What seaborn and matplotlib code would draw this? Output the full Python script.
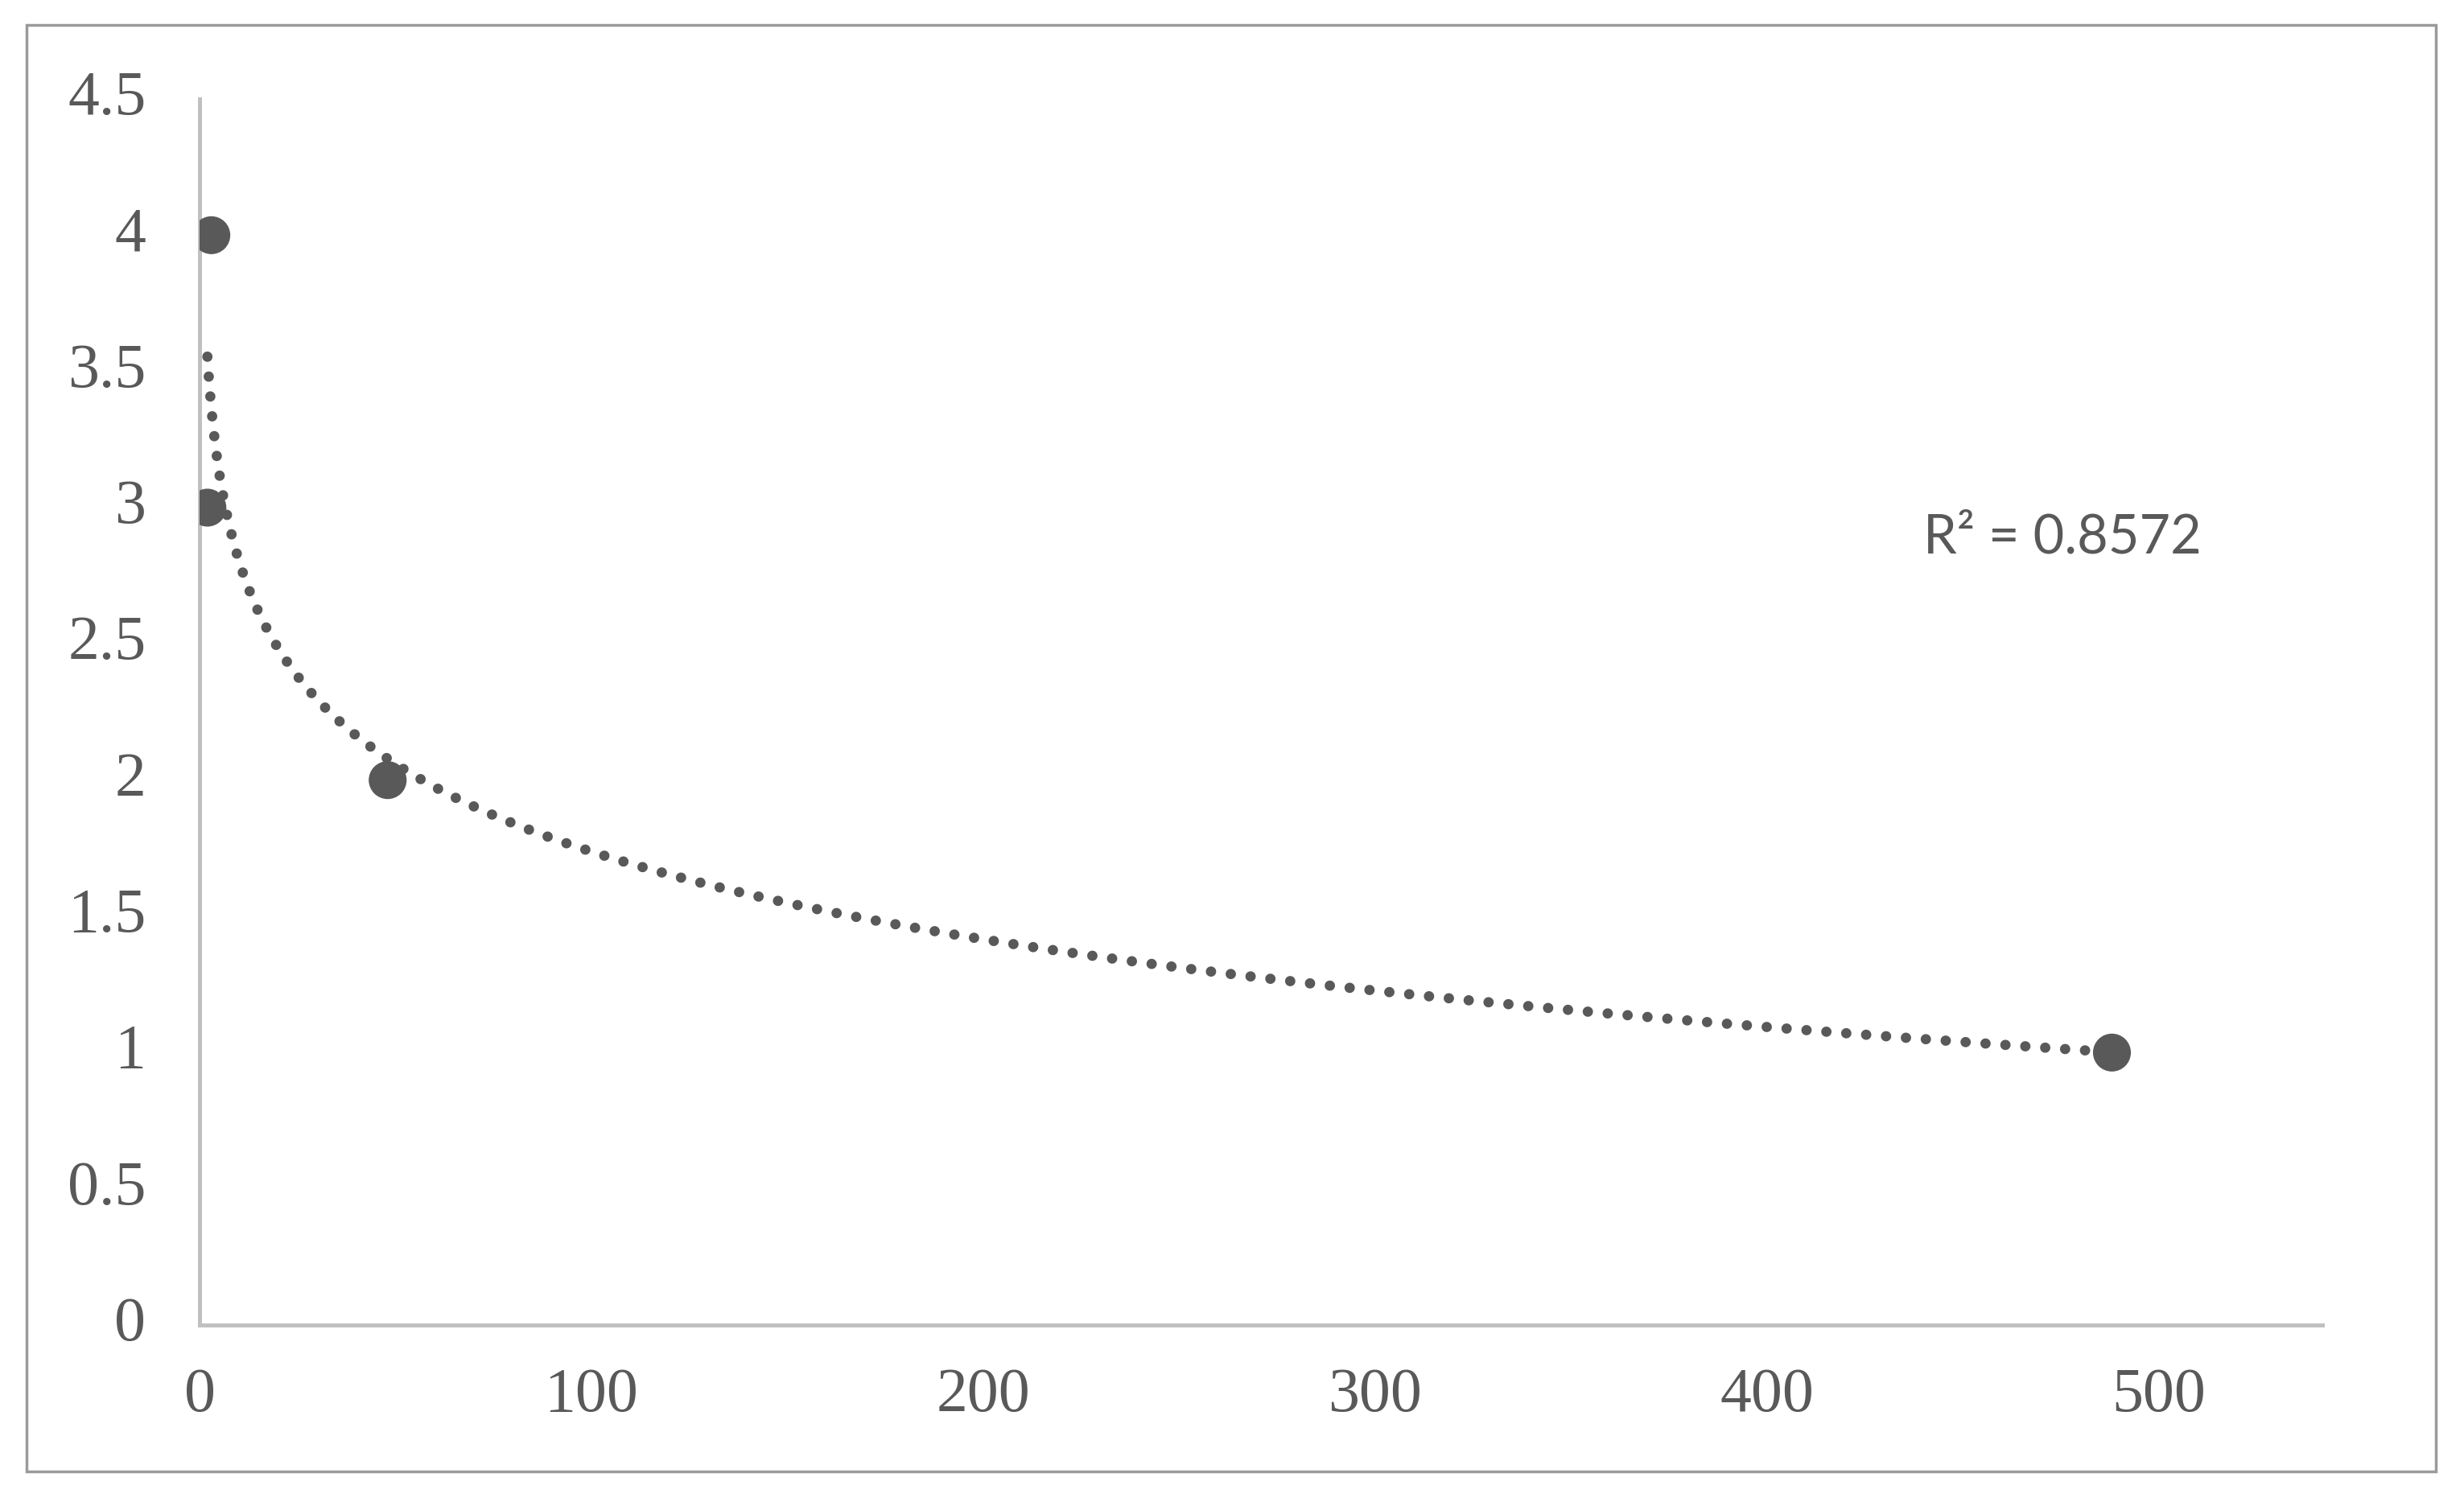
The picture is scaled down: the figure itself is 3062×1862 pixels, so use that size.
import numpy as np
import pandas as pd
import matplotlib
matplotlib.use("Agg")
import matplotlib.pyplot as plt
from matplotlib.patches import Rectangle
from matplotlib.transforms import ScaledTranslation
import seaborn as sns

# ---- data ----
x_vals = [3, 2, 48, 488]
y_vals = [4, 3, 2, 1]
x_ticks = [0, 100, 200, 300, 400, 500]
y_ticks = [0, 0.5, 1, 1.5, 2, 2.5, 3, 3.5, 4, 4.5]
y_tick_labels = ["0", "0.5", "1", "1.5", "2", "2.5", "3", "3.5", "4", "4.5"]
r2_label = "R\u00b2 = 0.8572"

sns.set_theme(style="white")
plt.rcParams['font.family'] = ['Liberation Serif', 'DejaVu Serif']

W, H = 3062, 1862
fig = plt.figure(figsize=(W / 100, H / 100), dpi=100)
ax = fig.add_axes([248 / W, 1 - 1647 / H, (2886 - 248) / W, (1647 - 123) / H])

df = pd.DataFrame({"x": x_vals, "y": y_vals})

# logarithmic trendline y = a ln(x) + b
a, b = np.polyfit(np.log(df["x"]), df["y"], 1)
xs = np.geomspace(df["x"].min(), df["x"].max(), 400)
trend = pd.DataFrame({"x": xs, "y": a * np.log(xs) + b})
sns.lineplot(data=trend, x="x", y="y", ax=ax, color="#595959", lw=9.2,
             linestyle=(0, (0.01, 1.93)), dash_capstyle="round", zorder=2)

sns.scatterplot(data=df, x="x", y="y", ax=ax, s=1150, color="#595959",
                edgecolor="none", linewidth=0, zorder=3)

ax.set_xlim(0, 541.7)
ax.set_ylim(0, 4.5)
ax.set_xticks(x_ticks)
ax.set_xticklabels([str(t) for t in x_ticks])
ax.set_yticks(y_ticks)
ax.set_yticklabels(y_tick_labels)
ax.set_xlabel("")
ax.set_ylabel("")
ax.tick_params(axis="both", length=0, labelsize=56, labelcolor="#595959")
ax.tick_params(axis="x", pad=38)
ax.tick_params(axis="y", pad=48)
shift = ScaledTranslation(0, 6 / 72, fig.dpi_scale_trans)
for lab in ax.get_yticklabels():
    lab.set_transform(lab.get_transform() + shift)

for side in ["top", "right"]:
    ax.spines[side].set_visible(False)
for side in ["left", "bottom"]:
    ax.spines[side].set_color("#c0c0c0")
    ax.spines[side].set_linewidth(3.6)
ax.grid(False)

ax.text(2390 / W, 1 - 688 / H, r2_label, transform=fig.transFigure,
        fontsize=48, color="#595959", family=["Lato", "DejaVu Sans"],
        ha="left", va="baseline")

fig.patches.append(Rectangle((33 / W, 1 - 1829 / H), (3027 - 33) / W, (1829 - 31) / H,
                             transform=fig.transFigure, fill=False,
                             edgecolor="#9a9a9a", linewidth=2.5))

fig.savefig("out.png", dpi=100)
